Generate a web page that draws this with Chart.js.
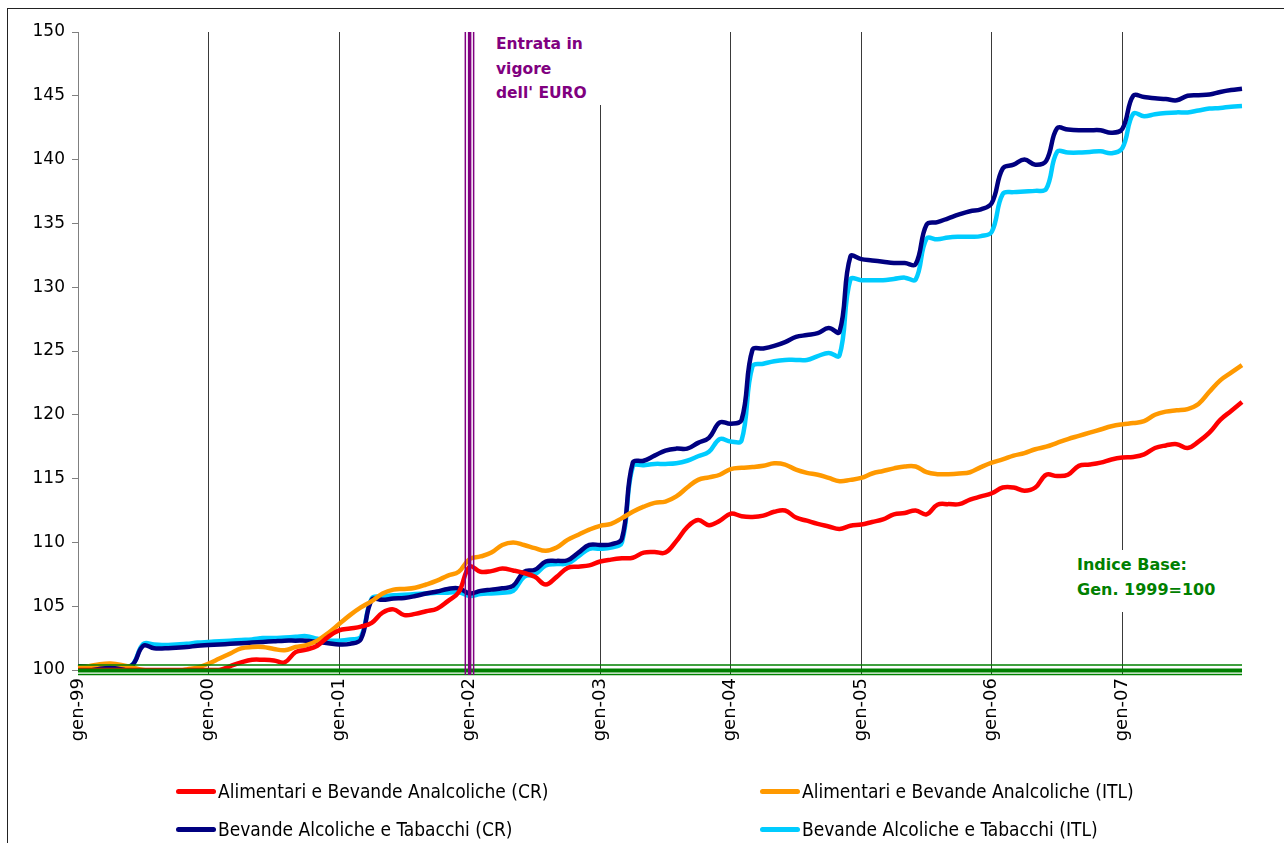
<!DOCTYPE html>
<html>
<head>
<meta charset="utf-8">
<script src="https://cdn.jsdelivr.net/npm/chart.js@4/dist/chart.umd.min.js"></script>
<style>
  body { margin: 0; background: #fff; }
  #wrap { position: relative; width: 1284px; height: 843px; overflow: hidden; background: #fff; }
  #frame { position: absolute; left: 7px; top: 8px; width: 1400px; height: 900px; border-left: 1px solid #222; border-top: 1px solid #222; }
  canvas { position: absolute; left: 0; top: 0; }
  .note { position: absolute; background: #fff; font-family: "DejaVu Sans", sans-serif; font-weight: bold; font-size: 16px; }
  #euroNote { left: 488px; top: 32px; width: 114px; height: 73px; padding-left: 8px; padding-top: 0px; box-sizing: border-box; line-height: 24.5px; color: #800080; font-size: 15.5px; }
  #baseNote { left: 1070px; top: 550px; width: 165px; height: 62px; padding-left: 7px; padding-top: 2px; box-sizing: border-box; line-height: 25px; color: #008000; }
  .leg { position: absolute; font-family: "DejaVu Sans Condensed", "DejaVu Sans", sans-serif; font-stretch: condensed; font-size: 19px; color: #000; white-space: nowrap; }
  .leg i { position: absolute; left: 0; top: 50%; width: 40px; height: 5px; margin-top: -2px; border-radius: 3px; }
  .leg span { margin-left: 42px; }
</style>
</head>
<body>
<div id="wrap">
  <div id="frame"></div>
  <canvas id="chart" width="1284" height="843"></canvas>
  <div class="note" id="euroNote">Entrata in<br>vigore<br>dell' EURO</div>
  <div class="note" id="baseNote">Indice Base:<br>Gen. 1999=100</div>
  <div id="legend"></div>
</div>
<script>
// mesi e anni per le etichette
const mesi = ["gen", "feb", "mar", "apr", "mag", "giu", "lug", "ago", "set", "ott", "nov", "dic"];
const anni = ["99", "00", "01", "02", "03", "04", "05", "06", "07"];
const labels = [];
anni.forEach(a => mesi.forEach(m => labels.push(m + "-" + a)));

const yTicks = [100, 105, 110, 115, 120, 125, 130, 135, 140, 145, 150];

// Alimentari e Bevande Analcoliche (CR)
const alimCR = [
  100.0, 100.0, 100.0, 100.0, 100.0, 100.0, 100.0, 100.0, 100.0, 100.0, 100.0, 100.0,
  100.0, 100.0, 100.3, 100.6, 100.8, 100.8, 100.75, 100.6, 101.4, 101.6, 101.9, 102.6,
  103.1, 103.25, 103.4, 103.7, 104.5, 104.75, 104.3, 104.4, 104.6, 104.8, 105.4, 106.1,
  108.1, 107.7, 107.75, 107.95, 107.8, 107.6, 107.3, 106.7, 107.3, 108.0, 108.1, 108.2,
  108.5, 108.65, 108.75, 108.8, 109.2, 109.25, 109.2, 110.1, 111.2, 111.75, 111.35, 111.7,
  112.25, 112.05, 112.0, 112.1, 112.4, 112.5, 111.95, 111.7, 111.45, 111.25, 111.05, 111.3,
  111.4, 111.6, 111.8, 112.2, 112.3, 112.5, 112.2, 112.95, 113.0, 113.0, 113.35, 113.6,
  113.85, 114.3, 114.3, 114.05, 114.3, 115.3, 115.2, 115.3, 116.0, 116.1, 116.25, 116.5,
  116.65, 116.7, 116.9, 117.4, 117.6, 117.7, 117.4, 117.9, 118.6, 119.6, 120.3, 121.0
];

// Alimentari e Bevande Analcoliche (ITL)
const alimITL = [
  100.2, 100.3, 100.45, 100.5, 100.4, 100.2, 100.0, 99.9, 99.9, 99.9, 100.05, 100.2,
  100.5, 100.9, 101.3, 101.7, 101.8, 101.8, 101.65, 101.55, 101.8, 101.95, 102.3, 102.9,
  103.6, 104.3, 104.9, 105.4, 106.0, 106.3, 106.35, 106.45, 106.7, 107.0, 107.4, 107.7,
  108.7, 108.9, 109.2, 109.8, 110.0, 109.8, 109.55, 109.35, 109.6, 110.2, 110.6, 111.0,
  111.3, 111.45, 111.9, 112.4, 112.8, 113.1, 113.2, 113.6, 114.3, 114.9, 115.1, 115.3,
  115.75, 115.85, 115.9, 116.0, 116.2, 116.1, 115.7, 115.45, 115.3, 115.05, 114.8, 114.9,
  115.05, 115.4, 115.6, 115.8, 115.95, 115.95, 115.5, 115.35, 115.35, 115.4, 115.5, 115.9,
  116.25, 116.5, 116.8, 117.0, 117.3, 117.5, 117.8, 118.1, 118.35, 118.6, 118.85, 119.1,
  119.25, 119.35, 119.5, 120.0, 120.25, 120.35, 120.45, 120.85, 121.8, 122.7, 123.3, 123.9
];

// Bevande Alcoliche e Tabacchi (CR)
const bevCR = [
  100.3, 100.3, 100.3, 100.3, 100.3, 100.4, 101.9, 101.7, 101.7, 101.75, 101.8, 101.9,
  101.95, 102.0, 102.05, 102.1, 102.15, 102.2, 102.25, 102.3, 102.3, 102.3, 102.2, 102.1,
  102.0, 102.05, 102.4, 105.5, 105.5, 105.6, 105.65, 105.8, 106.0, 106.15, 106.35, 106.4,
  106.0, 106.2, 106.3, 106.4, 106.6, 107.7, 107.85, 108.5, 108.55, 108.6, 109.2, 109.8,
  109.8, 109.85, 110.3, 116.25, 116.4, 116.8, 117.2, 117.35, 117.35, 117.8, 118.2, 119.4,
  119.3, 119.6, 125.1, 125.2, 125.4, 125.7, 126.1, 126.25, 126.4, 126.8, 126.5, 132.4,
  132.2, 132.1, 132.0, 131.9, 131.9, 131.8, 134.9, 135.1, 135.4, 135.7, 135.95, 136.1,
  136.6, 139.3, 139.6, 140.0, 139.6, 139.9, 142.45, 142.35, 142.3, 142.3, 142.3, 142.1,
  142.4, 145.0, 144.9, 144.8, 144.75, 144.65, 145.0, 145.05, 145.1, 145.3, 145.45, 145.55
];

// Bevande Alcoliche e Tabacchi (ITL)
const bevITL = [
  100.3, 100.3, 100.3, 100.3, 100.3, 100.4, 102.05, 102.0, 101.95, 102.0, 102.05, 102.15,
  102.2, 102.25, 102.3, 102.35, 102.4, 102.5, 102.5, 102.55, 102.6, 102.65, 102.45, 102.3,
  102.3, 102.4, 102.6, 105.6, 105.75, 105.85, 105.9, 105.95, 106.0, 106.05, 106.05, 106.1,
  105.8, 105.95, 106.0, 106.05, 106.2, 107.3, 107.5, 108.2, 108.3, 108.35, 108.9, 109.5,
  109.5, 109.6, 110.0, 115.95, 116.05, 116.15, 116.15, 116.2, 116.4, 116.75, 117.1, 118.1,
  117.9, 118.0, 123.8, 124.0, 124.2, 124.3, 124.3, 124.3, 124.6, 124.85, 124.65, 130.6,
  130.55, 130.55, 130.55, 130.65, 130.75, 130.6, 133.8, 133.75, 133.9, 133.95, 133.95, 134.0,
  134.35, 137.3, 137.45, 137.5, 137.55, 137.7, 140.6, 140.55, 140.55, 140.6, 140.65, 140.5,
  140.9, 143.6, 143.4, 143.55, 143.65, 143.7, 143.7, 143.85, 144.0, 144.05, 144.15, 144.2
];

const euroIndex = labels.indexOf("gen-02");

// linee verde (base 100) e viola (euro), disegnate sopra le serie
const refLines = {
  id: "refLines",
  afterDatasetsDraw(chart) {
    const {ctx, chartArea, scales} = chart;
    const y0 = scales.y.getPixelForValue(100);
    ctx.save();
    ctx.strokeStyle = "#008000";
    [[-5, 1.5], [0.5, 4], [4.5, 1.5]].forEach(([d, w]) => {
      ctx.lineWidth = w;
      ctx.beginPath();
      ctx.moveTo(chartArea.left, y0 + d);
      ctx.lineTo(chartArea.right, y0 + d);
      ctx.stroke();
    });
    const xe = scales.x.getPixelForValue(euroIndex);
    ctx.strokeStyle = "#800080";
    [[-4.3, 1.5], [0, 3.5], [4, 1.5]].forEach(([d, w]) => {
      ctx.lineWidth = w;
      ctx.beginPath();
      ctx.moveTo(xe + d, chartArea.top);
      ctx.lineTo(xe + d, y0 + 5);
      ctx.stroke();
    });
    ctx.restore();
  }
};

const series = [
  {label: "Alimentari e Bevande Analcoliche (CR)", data: alimCR, color: "#ff0000"},
  {label: "Alimentari e Bevande Analcoliche (ITL)", data: alimITL, color: "#ff9900"},
  {label: "Bevande Alcoliche e Tabacchi (CR)", data: bevCR, color: "#000080"},
  {label: "Bevande Alcoliche e Tabacchi (ITL)", data: bevITL, color: "#00ccff"}
];

const chart = new Chart(document.getElementById("chart"), {
  type: "line",
  data: {
    labels: labels,
    datasets: series.map(s => ({
      label: s.label,
      data: s.data,
      borderColor: s.color,
      backgroundColor: s.color,
      borderWidth: 4.5,
      pointRadius: 0,
      tension: 0.4,
      fill: false
    }))
  },
  options: {
    responsive: false,
    animation: false,
    layout: {padding: {left: 0, top: 32, right: 42, bottom: 83}},
    plugins: {legend: {display: false}, tooltip: {enabled: false}},
    scales: {
      x: {
        offset: false,
        afterFit: s => { s.height = 90; },
        border: {display: false},
        grid: {
          color: c => (c.index === 0 || c.index === euroIndex) ? "rgba(0,0,0,0)" : "#3a3a3a",
          lineWidth: 1,
          tickLength: 5
        },
        ticks: {
          autoSkip: false,
          minRotation: 90,
          maxRotation: 90,
          padding: 3,
          color: "#000",
          font: {family: "DejaVu Sans", size: 18},
          callback: (v, i) => (i % 12 === 0 ? labels[i] : null)
        }
      },
      y: {
        min: yTicks[0],
        max: yTicks[yTicks.length - 1],
        afterFit: s => { s.width = 78; },
        afterBuildTicks: s => { s.ticks = yTicks.map(v => ({value: v})); },
        border: {display: true, color: "#808080", width: 1},
        grid: {drawOnChartArea: false, color: "#808080", tickLength: 6},
        ticks: {
          padding: 7,
          color: "#000",
          font: {family: "DejaVu Sans", size: 17}
        }
      }
    }
  },
  plugins: [refLines]
});

// legenda su due colonne
const legendPos = [[176, 791], [760, 791], [176, 829], [760, 829]];
const legend = document.getElementById("legend");
chart.data.datasets.forEach((ds, k) => {
  const el = document.createElement("div");
  el.className = "leg";
  el.style.left = legendPos[k][0] + "px";
  el.style.top = (legendPos[k][1] - 12) + "px";
  el.style.lineHeight = "24px";
  el.innerHTML = '<i style="background:' + ds.borderColor + '"></i><span>' + ds.label + "</span>";
  legend.appendChild(el);
});
</script>
</body>
</html>
